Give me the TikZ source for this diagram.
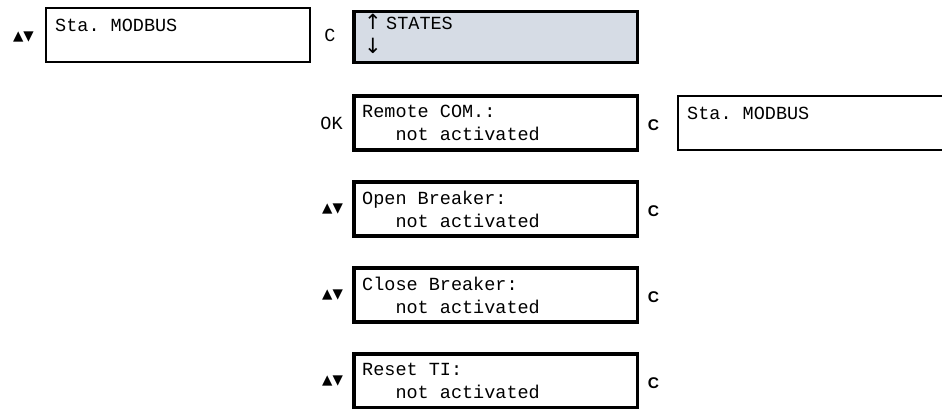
\documentclass[tikz,border=0pt]{standalone}
\usepackage{fontspec}
\setmonofont{Liberation Mono}
\newfontfamily\symfont{DejaVu Sans}
\newfontfamily\keyfont{Liberation Sans}
\usepackage{tikz}
\definecolor{statesfill}{HTML}{D6DCE5}

\begin{document}
\begin{tikzpicture}[x=1pt,y=-1pt,
  lcd/.style={draw,line width=3.5pt,minimum width=283.5pt,minimum height=54pt,inner sep=0pt},
  lcdthin/.style={draw,line width=2pt,minimum height=54pt,inner sep=0pt},
  lcdtext/.style={anchor=north west,inner sep=0pt,align=left,font=\ttfamily\fontsize{18.5}{23}\selectfont},
  keytext/.style={inner sep=0pt,font=\ttfamily\fontsize{18.5}{23}\selectfont},
  updown/.style={inner sep=0pt,font=\symfont\fontsize{13.5}{16}\selectfont},
  esckey/.style={inner sep=0pt,font=\keyfont\bfseries\fontsize{15.5}{18}\selectfont}]
\useasboundingbox (0,0) rectangle (942,408);

\node[lcdthin,minimum width=264pt] (staL) at (178,35) {};
\node[lcd,fill=statesfill,minimum height=51pt] (states) at (495.5,37) {};
\node[lcd] (remote) at (495.5,123) {};
\node[lcd] (open) at (495.5,209) {};
\node[lcd] (close) at (495.5,295) {};
\node[lcd] (reset) at (495.5,381) {};
\node[lcdthin,minimum width=282pt] (staR) at (819,123) {};

\node[lcdtext] (staLtext) at ([shift={(10,12)}]staL.north west) {Sta. MODBUS};
\node[lcdtext] (statestext) at ([shift={(12,7)}]states.north west)
  {\makebox[22pt][l]{\smash{\symfont\fontsize{21}{23}\selectfont ↑}}STATES\\[1pt]\smash{\symfont\fontsize{21}{23}\selectfont ↓}};
\node[lcdtext] (remotetext) at ([shift={(10,11)}]remote.north west) {Remote COM.:\\\phantom{xxx}not activated};
\node[lcdtext] (opentext) at ([shift={(10,11)}]open.north west) {Open Breaker:\\\phantom{xxx}not activated};
\node[lcdtext] (closetext) at ([shift={(10,11)}]close.north west) {Close Breaker:\\\phantom{xxx}not activated};
\node[lcdtext] (resettext) at ([shift={(10,11)}]reset.north west) {Reset TI:\\\phantom{xxx}not activated};
\node[lcdtext] (staRtext) at ([shift={(10,12)}]staR.north west) {Sta. MODBUS};

\node[updown] (staLkey) at (23.5,37) {▲▼};
\node[keytext] (staLesc) at (330,35) {C};
\node[keytext] (remotekey) at (331.5,123) {OK};
\node[esckey] (remoteesc) at (653.5,125) {C};
\node[updown] (openkey) at (332.5,209) {▲▼};
\node[esckey] (openesc) at (653.5,211) {C};
\node[updown] (closekey) at (332.5,295) {▲▼};
\node[esckey] (closeesc) at (653.5,297) {C};
\node[updown] (resetkey) at (332.5,381) {▲▼};
\node[esckey] (resetesc) at (653.5,383) {C};
\end{tikzpicture}
\end{document}
